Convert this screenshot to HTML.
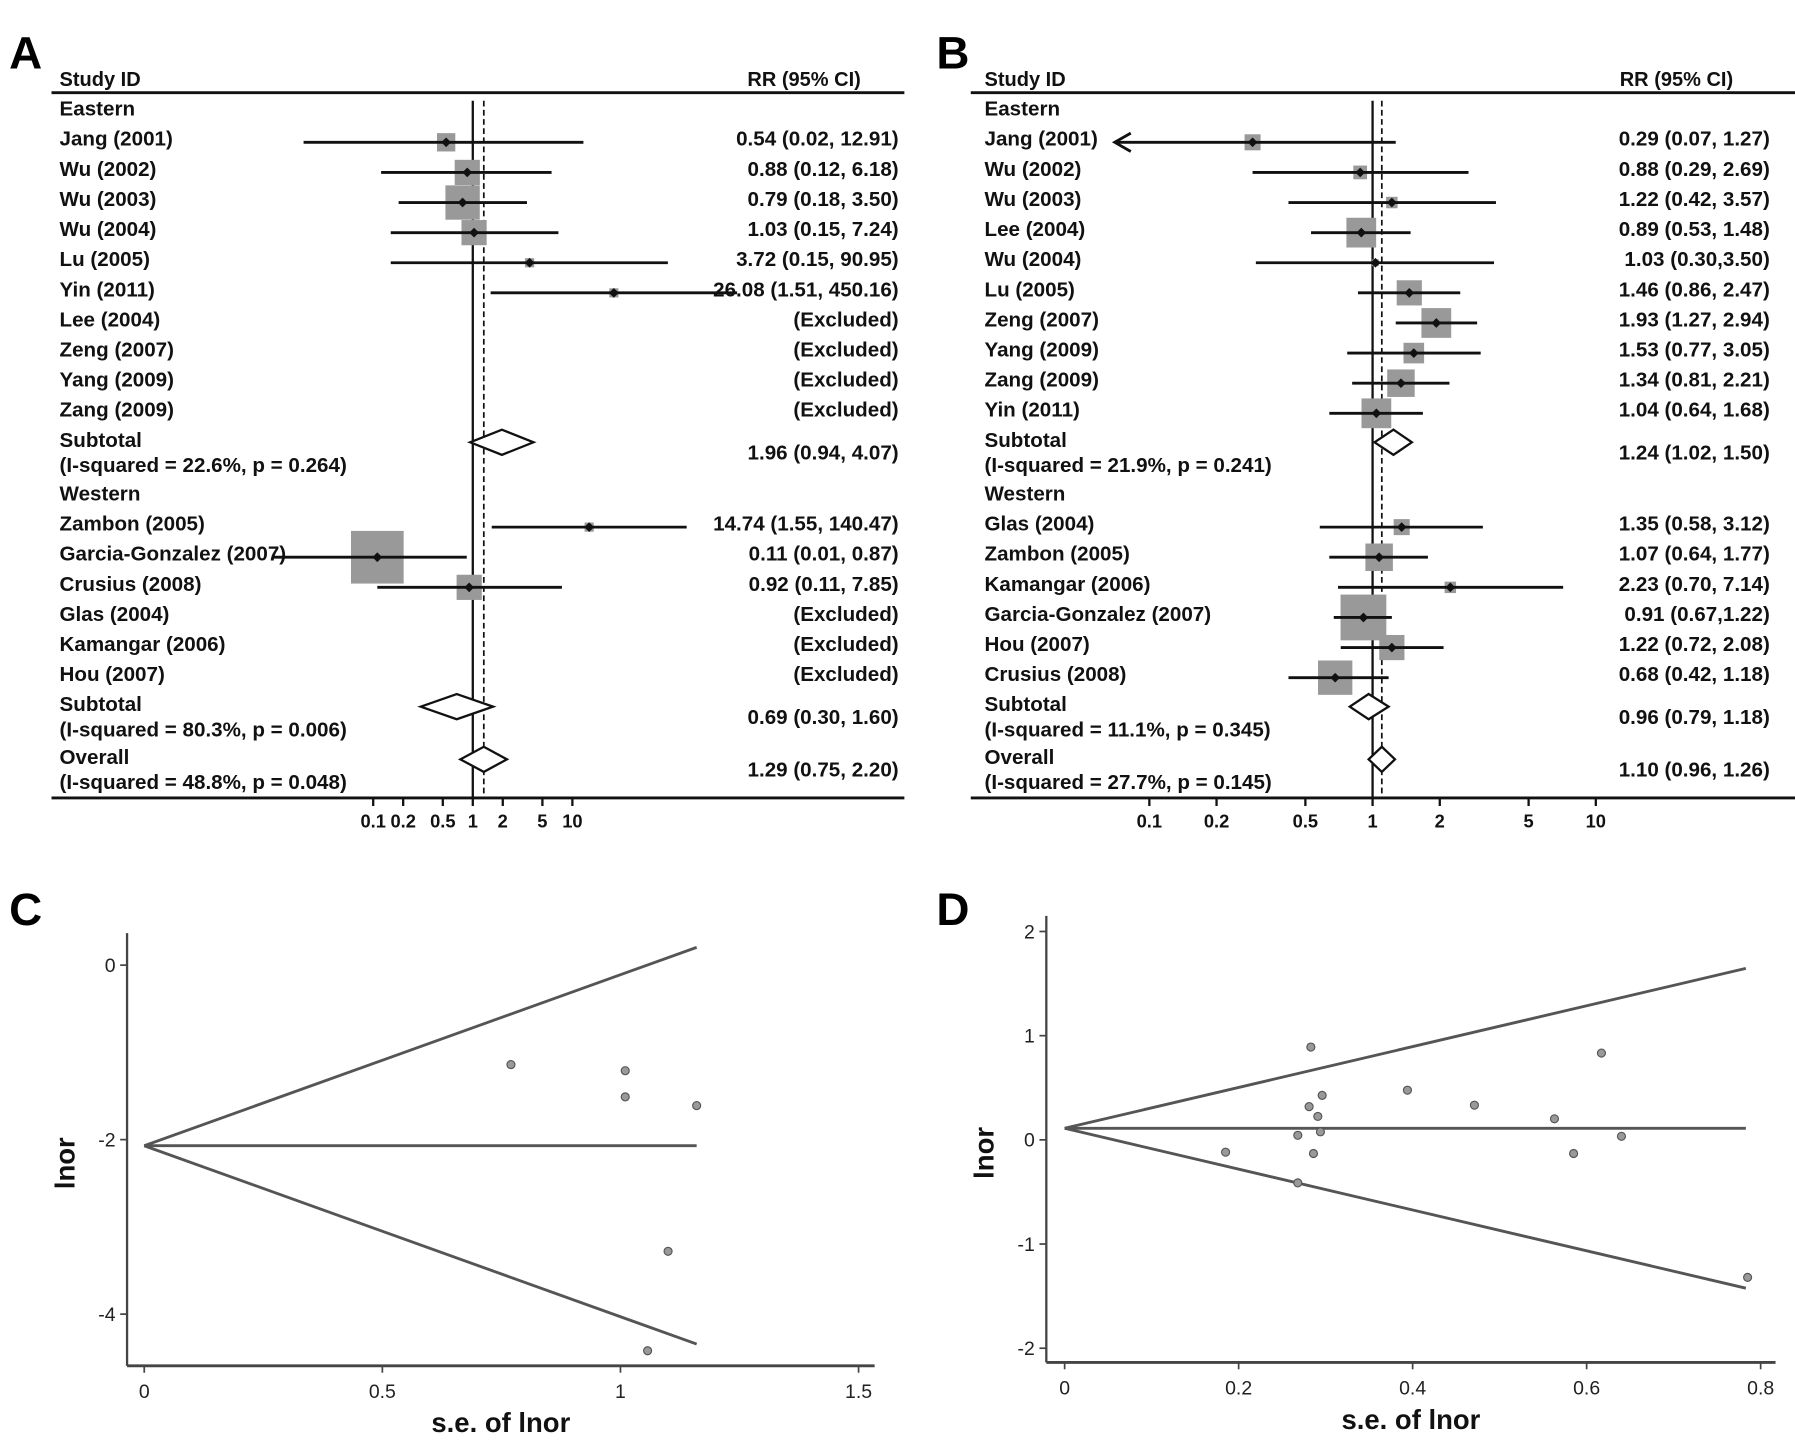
<!DOCTYPE html>
<html><head><meta charset="utf-8"><style>
html,body{margin:0;padding:0;background:#fff;}
svg{display:block;}
text{font-family:"Liberation Sans",Arial,sans-serif;}
</style></head><body>
<svg id="fig" width="1795" height="1446" viewBox="0 0 1568 1263" preserveAspectRatio="none" xmlns="http://www.w3.org/2000/svg"></svg>
<script>
// ---------- Panel A data ----------
const aLabels = ["Eastern","Jang (2001)","Wu (2002)","Wu (2003)","Wu (2004)","Lu (2005)","Yin (2011)","Lee (2004)","Zeng (2007)","Yang (2009)","Zang (2009)","Subtotal","Western","Zambon (2005)","Garcia-Gonzalez (2007)","Crusius (2008)","Glas (2004)","Kamangar (2006)","Hou (2007)","Subtotal","Overall"];
const aKinds = ["h","s","s","s","s","s","s","x","x","x","x","d","h","s","s","s","x","x","x","d","d"];
const aEst = [null,0.54,0.88,0.79,1.03,3.72,26.08,null,null,null,null,1.96,null,14.74,0.11,0.92,null,null,null,0.69,1.29];
const aLo = [null,0.02,0.12,0.18,0.15,0.15,1.51,null,null,null,null,0.94,null,1.55,0.01,0.11,null,null,null,0.30,0.75];
const aHi = [null,12.91,6.18,3.50,7.24,90.95,450.16,null,null,null,null,4.07,null,140.47,0.87,7.85,null,null,null,1.60,2.20];
const aWeight = [0,16,22,30,22,8,8,0,0,0,0,0,0,8,46,22,0,0,0,0,0];
const aRR = ["","0.54 (0.02, 12.91)","0.88 (0.12, 6.18)","0.79 (0.18, 3.50)","1.03 (0.15, 7.24)","3.72 (0.15, 90.95)","26.08 (1.51, 450.16)","(Excluded)","(Excluded)","(Excluded)","(Excluded)","1.96 (0.94, 4.07)","","14.74 (1.55, 140.47)","0.11 (0.01, 0.87)","0.92 (0.11, 7.85)","(Excluded)","(Excluded)","(Excluded)","0.69 (0.30, 1.60)","1.29 (0.75, 2.20)"];
const aI2 = ["(I-squared = 22.6%, p = 0.264)","(I-squared = 80.3%, p = 0.006)","(I-squared = 48.8%, p = 0.048)"];
// ---------- Panel B data ----------
const bLabels = ["Eastern","Jang (2001)","Wu (2002)","Wu (2003)","Lee (2004)","Wu (2004)","Lu (2005)","Zeng (2007)","Yang (2009)","Zang (2009)","Yin (2011)","Subtotal","Western","Glas (2004)","Zambon (2005)","Kamangar (2006)","Garcia-Gonzalez (2007)","Hou (2007)","Crusius (2008)","Subtotal","Overall"];
const bKinds = ["h","s","s","s","s","s","s","s","s","s","s","d","h","s","s","s","s","s","s","d","d"];
const bEst = [null,0.29,0.88,1.22,0.89,1.03,1.46,1.93,1.53,1.34,1.04,1.24,null,1.35,1.07,2.23,0.91,1.22,0.68,0.96,1.10];
const bLo = [null,0.07,0.29,0.42,0.53,0.30,0.86,1.27,0.77,0.81,0.64,1.02,null,0.58,0.64,0.70,0.67,0.72,0.42,0.79,0.96];
const bHi = [null,1.27,2.69,3.57,1.48,3.50,2.47,2.94,3.05,2.21,1.68,1.50,null,3.12,1.77,7.14,1.22,2.08,1.18,1.18,1.26];
const bWeight = [0,14,12,10,26,6,22,26,18,24,26,0,0,14,24,10,40,22,30,0,0];
const bRR = ["","0.29 (0.07, 1.27)","0.88 (0.29, 2.69)","1.22 (0.42, 3.57)","0.89 (0.53, 1.48)","1.03 (0.30,3.50)","1.46 (0.86, 2.47)","1.93 (1.27, 2.94)","1.53 (0.77, 3.05)","1.34 (0.81, 2.21)","1.04 (0.64, 1.68)","1.24 (1.02, 1.50)","","1.35 (0.58, 3.12)","1.07 (0.64, 1.77)","2.23 (0.70, 7.14)","0.91 (0.67,1.22)","1.22 (0.72, 2.08)","0.68 (0.42, 1.18)","0.96 (0.79, 1.18)","1.10 (0.96, 1.26)"];
const bI2 = ["(I-squared = 21.9%, p = 0.241)","(I-squared = 11.1%, p = 0.345)","(I-squared = 27.7%, p = 0.145)"];
const forestTicks = [0.1,0.2,0.5,1,2,5,10];
const forestTickLabels = ["0.1","0.2","0.5","1","2","5","10"];
// ---------- Funnel C data ----------
const cSE = [0.77,1.01,1.01,1.16,1.10,1.057];
const cLnor = [-1.14,-1.21,-1.51,-1.61,-3.28,-4.42];
const cCenter = -2.07, cMaxSE = 1.16;
const cXTicks = [0,0.5,1,1.5], cXTickLabels = ["0","0.5","1","1.5"];
const cYTicks = [0,-2,-4], cYTickLabels = ["0","-2","-4"];
// ---------- Funnel D data ----------
const dSE = [0.185,0.268,0.268,0.281,0.283,0.286,0.291,0.294,0.296,0.394,0.471,0.563,0.585,0.617,0.640,0.785];
const dLnor = [-0.118,0.044,-0.413,0.319,0.891,-0.131,0.225,0.077,0.427,0.477,0.333,0.202,-0.131,0.833,0.034,-1.32];
const dCenter = 0.111, dMaxSE = 0.783;
const dXTicks = [0,0.2,0.4,0.6,0.8], dXTickLabels = ["0","0.2","0.4","0.6","0.8"];
const dYTicks = [2,1,0,-1,-2], dYTickLabels = ["2","1","0","-1","-2"];

const FS = 18;
const NS="http://www.w3.org/2000/svg";
const svg=document.getElementById('fig');
function mk(tag,attrs,parent){const e=document.createElementNS(NS,tag);for(const k in attrs)e.setAttribute(k,attrs[k]);(parent||svg).appendChild(e);return e;}
function txt(s,x,y,size,weight,anchor,parent,fill){const t=mk('text',{x:x,y:y,'font-size':size,'font-weight':weight||'bold','text-anchor':anchor||'start',fill:fill||'#111'},parent);t.textContent=s;return t;}

function forest(opt){
  const g=mk('g',{});
  
  
  const X=v=>opt.c+opt.k*Math.log10(v);
  const rowY=i=>95+26.3*(i+(i>=20?1.53:(i>=12?0.78:0)));
  const pl=txt(opt.letter,opt.lx,60,40,'bold','start',g,'#000');
  
  
  const h1=txt('Study ID',opt.sx,75,17.5,'bold','start',g);
  
  
  const h2=txt('RR (95% CI)',opt.hx,75,17.5,'bold','end',g);
  
  
  mk('line',{x1:opt.l0,x2:opt.l1,y1:81,y2:81,stroke:'#111','stroke-width':2.5},g);
  mk('line',{x1:opt.l0,x2:opt.l1,y1:697,y2:697,stroke:'#111','stroke-width':2.5},g);
  const nl=mk('line',{x1:X(1),x2:X(1),y1:88,y2:697,stroke:'#111','stroke-width':2},g);
  
  const ov=opt.est[opt.est.length-1];
  const dl=mk('line',{x1:X(ov),x2:X(ov),y1:88,y2:697,stroke:'#111','stroke-width':1.5,'stroke-dasharray':'5,3'},g);
  
  let di=0;
  for(let i=0;i<opt.labels.length;i++){
    const y=rowY(i), kind=opt.kinds[i];
    if(kind==='d'){
      const t=txt(opt.labels[i],opt.sx,y+6,FS,'bold','start',g);
      
      
      const t2=txt(opt.i2[di],opt.sx,y+28,FS,'bold','start',g);
      
      
      di++;
      const yc=y+2;
      const d=mk('polygon',{points:`${X(opt.lo[i])},${yc} ${X(opt.est[i])},${yc-11} ${X(opt.hi[i])},${yc} ${X(opt.est[i])},${yc+11}`,fill:'#fff',stroke:'#111','stroke-width':2},g);
      
      
      const r=txt(opt.rr[i],opt.rx,y+17,FS,'bold','end',g);
      
      
      continue;
    }
    const t=txt(opt.labels[i],opt.sx,y+6,FS,'bold','start',g);
    
    
    if(kind==='s'){
      const yc=y+3, w=opt.w[i], xe=X(opt.est[i]);
      const sq=mk('rect',{x:xe-w/2,y:yc-w/2,width:w,height:w,fill:'#999'},g);
      
      
      let xl=X(opt.lo[i]);
      const ci=mk('line',{x1:xl,x2:X(opt.hi[i]),y1:yc,y2:yc,stroke:'#111','stroke-width':2.5},g);
      
      
      if(opt.arrowRow===i){
        const a=mk('polyline',{points:`${xl+14},${yc-8} ${xl},${yc} ${xl+14},${yc+8}`,fill:'none',stroke:'#111','stroke-width':2.5},g);
        
      }
      const p=mk('rect',{x:xe-3,y:yc-3,width:6,height:6,fill:'#111',transform:`rotate(45 ${xe} ${yc})`},g);
      
      
    }
    if(opt.rr[i]){
      const r=txt(opt.rr[i],opt.rx,y+6,FS,'bold','end',g);
      
      
    }
  }
  forestTicks.forEach((v,j)=>{
    const tk=mk('line',{x1:X(v),x2:X(v),y1:697,y2:704,stroke:'#111','stroke-width':2},g);
    
    const tl=txt(forestTickLabels[j],X(v),723,16,'bold','middle',g);
    
    
  });
}
forest({name:'forest-plot-a',letter:'A',lx:8,sx:52,hx:752,rx:785,l0:45,l1:790,c:413,k:87,labels:aLabels,kinds:aKinds,est:aEst,lo:aLo,hi:aHi,w:aWeight,rr:aRR,i2:aI2,arrowRow:-1});
forest({name:'forest-plot-b',letter:'B',lx:818,sx:860,hx:1514,rx:1546,l0:848,l1:1568,c:1199,k:195,labels:bLabels,kinds:bKinds,est:bEst,lo:bLo,hi:bHi,w:bWeight,rr:bRR,i2:bI2,arrowRow:1});

function funnel(opt){
  const g=mk('g',{});
  
  
  const X=v=>opt.x0+opt.kx*v, Y=v=>opt.y0-opt.ky*v;
  const pl=txt(opt.letter,opt.lx,808,40,'bold','start',g,'#000');
  
  
  mk('line',{x1:opt.ax,x2:opt.ax,y1:opt.top,y2:opt.bot,stroke:'#444','stroke-width':2},g);
  mk('line',{x1:opt.ax,x2:opt.right,y1:opt.bot,y2:opt.bot,stroke:'#444','stroke-width':2.5},g);
  opt.xt.forEach((v,j)=>{
    mk('line',{x1:X(v),x2:X(v),y1:opt.bot,y2:opt.bot+6,stroke:'#444','stroke-width':1.5},g);
    const t=txt(opt.xtl[j],X(v),opt.bot+28,17,'normal','middle',g,'#222');
    
    
  });
  opt.yt.forEach((v,j)=>{
    mk('line',{x1:opt.ax-6,x2:opt.ax,y1:Y(v),y2:Y(v),stroke:'#444','stroke-width':1.5},g);
    const t=txt(opt.ytl[j],opt.ax-10,Y(v)+6,17,'normal','end',g,'#222');
    
    
  });
  const yt=txt('lnor',0,0,24,'bold','middle',g,'#111');
  yt.setAttribute('transform',`translate(${opt.ax-46},${(opt.top+opt.bot)/2+12}) rotate(-90)`);
  
  
  const xtt=txt('s.e. of lnor',(opt.ax+opt.right)/2,opt.bot+58,24,'bold','middle',g,'#111');
  
  
  const ub=mk('line',{x1:X(0),y1:Y(opt.center),x2:X(opt.maxSE),y2:Y(opt.center+1.96*opt.maxSE),stroke:'#555','stroke-width':2.5},g);
  
  const lb=mk('line',{x1:X(0),y1:Y(opt.center),x2:X(opt.maxSE),y2:Y(opt.center-1.96*opt.maxSE),stroke:'#555','stroke-width':2.5},g);
  
  const cl=mk('line',{x1:X(0),y1:Y(opt.center),x2:X(opt.maxSE),y2:Y(opt.center),stroke:'#555','stroke-width':2.5},g);
  
  opt.se.forEach((s,j)=>{
    const c=mk('circle',{cx:X(s),cy:Y(opt.ln[j]),r:3.5,fill:'#999',stroke:'#555','stroke-width':1},g);
    
    
  });
}
funnel({name:'funnel-plot-c',letter:'C',lx:8,x0:126,kx:416,y0:843,ky:76.2,ax:111,top:815,bot:1193,right:764,xt:cXTicks,xtl:cXTickLabels,yt:cYTicks,ytl:cYTickLabels,center:cCenter,maxSE:cMaxSE,se:cSE,ln:cLnor});
funnel({name:'funnel-plot-d',letter:'D',lx:818,x0:930,kx:760,y0:995.6,ky:91,ax:914,top:800,bot:1190,right:1551,xt:dXTicks,xtl:dXTickLabels,yt:dYTicks,ytl:dYTickLabels,center:dCenter,maxSE:dMaxSE,se:dSE,ln:dLnor});
</script>
</body></html>
